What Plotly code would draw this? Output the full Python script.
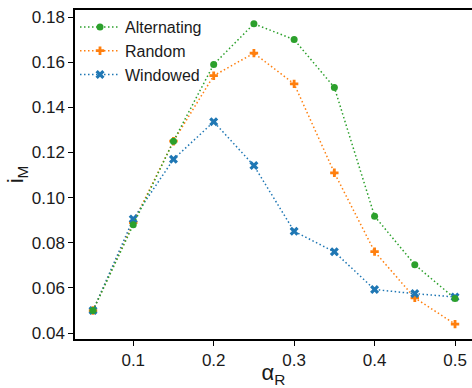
import plotly.graph_objects as go

alpha_r = [0.05, 0.1, 0.15, 0.2, 0.25, 0.3, 0.35, 0.4, 0.45, 0.5]
alternating = [0.050, 0.088, 0.125, 0.159, 0.177, 0.170, 0.1488, 0.0918, 0.0703, 0.0553]
random_ = [0.050, 0.089, 0.125, 0.154, 0.164, 0.1504, 0.111, 0.0761, 0.0556, 0.044]
windowed = [0.050, 0.0905, 0.117, 0.1336, 0.1142, 0.0851, 0.076, 0.0593, 0.0575, 0.056]

x_ticks = [0.1, 0.2, 0.3, 0.4, 0.5]
y_ticks = [0.04, 0.06, 0.08, 0.10, 0.12, 0.14, 0.16, 0.18]

FONT = "Liberation Sans, Arial, sans-serif"

fig = go.Figure()
series = [
    ("Random", random_, "#ff7f0e", "cross", 7, 2),
    ("Windowed", windowed, "#1f77b4", "x", 8, 3),
    ("Alternating", alternating, "#2ca02c", "circle", 7, 1),
]
for name, ys, color, sym, size, rank in series:
    fig.add_trace(go.Scatter(
        x=alpha_r, y=ys, name=name, mode="lines+markers",
        line=dict(color=color, width=1.5, dash="1.5px,2.5px"),
        marker=dict(color=color, symbol=sym, size=size, line=dict(width=0)),
        legendrank=rank,
    ))

fig.update_layout(
    width=472, height=388,
    margin=dict(l=75, r=0, t=10, b=46),
    plot_bgcolor="white", paper_bgcolor="white",
    font=dict(family=FONT, size=16, color="#1a1a1a"),
    showlegend=True,
    legend=dict(x=0.0, y=1.0, xanchor="left", yanchor="top",
                bgcolor="rgba(0,0,0,0)", font=dict(size=16),
                itemwidth=40, tracegroupgap=0),
    xaxis=dict(range=[0.0276, 0.5211], tickvals=x_ticks,
               ticktext=[f"{v:g}" for v in x_ticks],
               tickfont=dict(size=17),
               showline=True, linecolor="black", linewidth=1.5, mirror=True,
               ticks="outside", ticklen=5, tickcolor="black",
               showgrid=False, zeroline=False,
               title=dict(text="α<sub>R</sub>", font=dict(size=22), standoff=2)),
    yaxis=dict(range=[0.0374, 0.1831], tickvals=y_ticks,
               ticktext=[f"{v:.2f}" for v in y_ticks],
               tickfont=dict(size=17),
               showline=True, linecolor="black", linewidth=1.5,
               ticks="outside", ticklen=5, tickcolor="black",
               showgrid=False, zeroline=False,
               title=dict(text="i<sub>M</sub>", font=dict(size=22), standoff=2)),
)

fig.write_html("out.html")
